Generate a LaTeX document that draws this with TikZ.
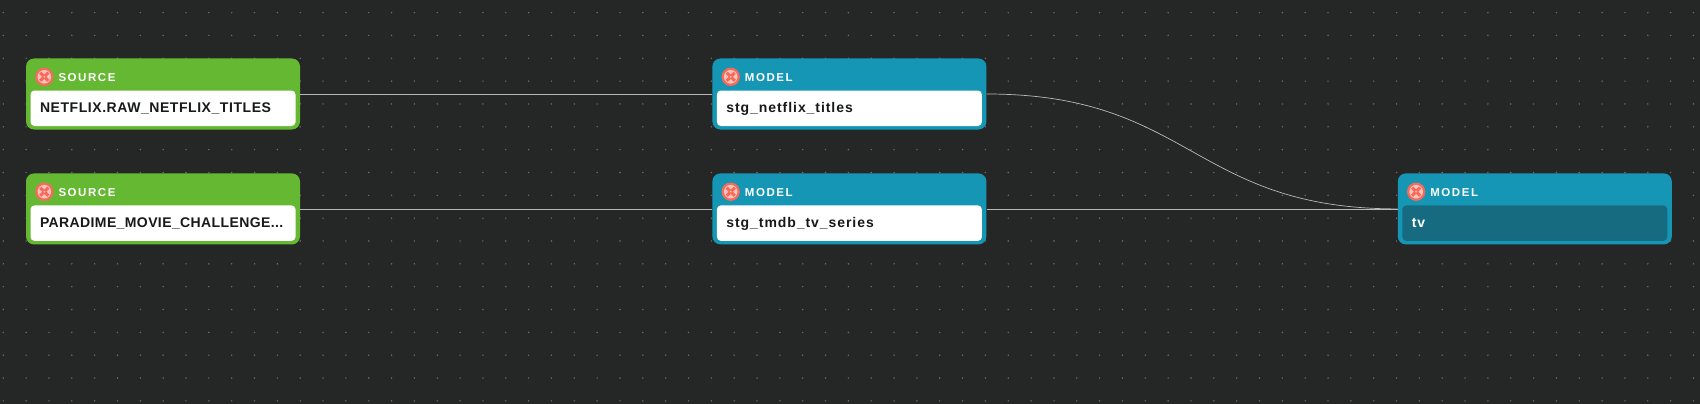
\documentclass[tikz,border=0pt]{standalone}
\usepackage{fontspec}
\usepackage{xcolor}
\usetikzlibrary{positioning}
\newfontfamily\namefont[LetterSpace=4]{Liberation Sans}
\newfontfamily\tightfont[LetterSpace=2.8]{Liberation Sans}
\newfontfamily\lowerfont[LetterSpace=6.7]{Liberation Sans}
\newfontfamily\headfont[LetterSpace=13.5]{Liberation Sans}
\definecolor{canvasbg}{HTML}{252727}
\definecolor{griddot}{HTML}{6E7070}
\definecolor{sourcegreen}{HTML}{65B832}
\definecolor{modelblue}{HTML}{1596B4}
\definecolor{tvblue}{HTML}{176B80}
\definecolor{iconred}{HTML}{F7695A}
\definecolor{iconpale}{HTML}{FBC4BA}
\definecolor{inktext}{HTML}{17191A}
\definecolor{edgegrey}{HTML}{B8BABA}
\tikzset{
  card/.style={rectangle, rounded corners=8pt, minimum width=274pt, minimum height=71pt, inner sep=0pt},
  sourcecard/.style={card, fill=sourcegreen},
  modelcard/.style={card, fill=modelblue},
  namebox/.style={rectangle, rounded corners=4pt, fill=white, minimum width=265pt, minimum height=35.5pt,
    inner xsep=9.5pt, inner ysep=0pt, text width=246pt, align=left, text=inktext, text height=10pt, text depth=2pt,
    font=\namefont\bfseries\fontsize{14}{16}\selectfont},
  lowername/.style={font=\lowerfont\bfseries\fontsize{14}{16}\selectfont},
  tightname/.style={font=\tightfont\bfseries\fontsize{14}{16}\selectfont},
  headlabel/.style={text=white, inner sep=0pt, text height=8pt, text depth=0pt,
    font=\headfont\bfseries\fontsize{11.5}{14}\selectfont},
  line/.style={draw=edgegrey, line width=0.7pt},
  erricon/.pic={
    \fill[iconred] (0,0) circle (9.2);
    \fill[iconpale] (0,0) circle (6.8);
    \draw[iconred, line width=3pt] (-4,-4) -- (4,4);
    \draw[iconred, line width=3pt] (-4,4) -- (4,-4);
    \fill[iconpale] (0,0) circle (1);
  }
}
\begin{document}
\begin{tikzpicture}[x=1pt, y=-1pt, node distance=43.5pt and 412pt]
  \useasboundingbox (0,0) rectangle (1700,404);
  \fill[canvasbg] (0,0) rectangle (1700,404);
  % dotted canvas
  \foreach \i in {0,...,74} {
    \foreach \j in {0,...,17} {
      \fill[griddot] ({3.3+22.84*\i},{12.6+22.84*\j}) circle (0.8);
    }
  }
  % cards
  \node[sourcecard] (src1) at (163,94) {};
  \node[sourcecard, below=of src1] (src2) {};
  \node[modelcard, right=of src1] (stg1) {};
  \node[modelcard, right=of src2] (stg2) {};
  \node[modelcard, right=411pt of stg2] (tv) {};
  % names
  \node[namebox, anchor=south] (src1name) at ([yshift=3.5pt]src1.south) {NETFLIX.RAW\_NETFLIX\_TITLES};
  \node[namebox, tightname, anchor=south] (src2name) at ([yshift=3.5pt]src2.south) {PARADIME\_MOVIE\_CHALLENGE...};
  \node[namebox, lowername, anchor=south] (stg1name) at ([yshift=3.5pt]stg1.south) {stg\_netflix\_titles};
  \node[namebox, lowername, anchor=south] (stg2name) at ([yshift=3.5pt]stg2.south) {stg\_tmdb\_tv\_series};
  \node[namebox, lowername, anchor=south, fill=tvblue, text=white] (tvname) at ([yshift=3.5pt]tv.south) {tv};
  % headers
  \foreach \n/\kind in {src1/SOURCE,src2/SOURCE,stg1/MODEL,stg2/MODEL,tv/MODEL} {
    \pic at ([xshift=18.5pt,yshift=-18.5pt]\n.north west) {erricon};
    \node[headlabel, anchor=west] (\n head) at ([xshift=32.5pt,yshift=-19.3pt]\n.north west) {\kind};
  }
  % edges
  \draw[line] (src1) -- (stg1);
  \draw[line] (src2) -- (stg2);
  \draw[line] (stg2) -- (tv);
  \draw[line] (stg1.east) .. controls +(205,0) and +(-205,0) .. (tv.west);
\end{tikzpicture}
\end{document}
